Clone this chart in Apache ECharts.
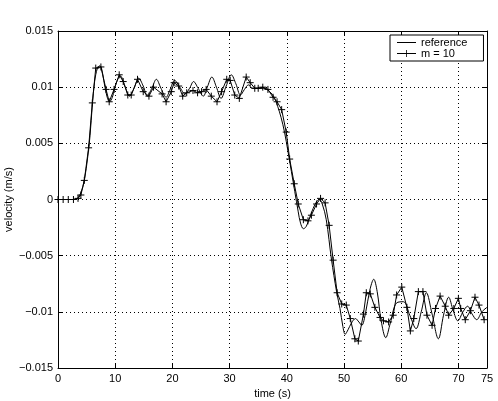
<!DOCTYPE html>
<html>
<head>
<meta charset="utf-8">
<script src="https://cdn.jsdelivr.net/npm/echarts@6/dist/echarts.min.js"></script>
<style>
  html, body { margin: 0; padding: 0; background: #fff; }
  #main { width: 498px; height: 401px; }
</style>
</head>
<body>
<div id="main"></div>
<script>
// reference curve
var refTime = [0, 1, 2, 3, 3.4, 4.0, 4.6, 5.2, 5.6, 6.0, 6.4, 6.9, 7.3, 7.6, 8.0, 8.5, 9.0, 9.5, 10.2, 10.9,
  11.7, 12.5, 13.3, 14.1, 14.9, 15.6, 16.4, 17.2, 18.0, 18.9, 19.6, 20.4, 21.3, 22.2, 23.0, 23.7, 24.5, 25.4,
  26.1, 26.9, 27.7, 28.5, 29.4, 30.3, 31.1, 31.9, 32.6, 33.3, 34.0, 35.0, 36.0, 37.0, 37.8, 38.4, 39.0, 39.6,
  40.2, 40.8, 41.4, 42.0, 42.4, 42.9, 43.4, 44.0, 44.6, 45.2, 45.7, 46.2, 46.9, 47.8, 48.7, 49.3, 49.8, 50.2,
  50.7, 51.3, 52.0, 52.6, 53.1, 53.8, 54.5, 55.2, 55.8, 56.5, 57.3, 58.1, 59.2, 60.4, 61.5, 62.6, 63.5, 64.4,
  65.4, 66.5, 67.4, 68.3, 69.1, 69.9, 70.8, 71.6, 72.4, 73.2, 74.1, 75];
var refVel = [0, 0, 0, 0, 0.0001, 0.0006, 0.0017, 0.0038, 0.0057, 0.0084, 0.0105, 0.0117, 0.0119, 0.0117, 0.0106,
  0.0093, 0.0087, 0.0091, 0.0104, 0.0110, 0.0101, 0.0092, 0.0099, 0.0108, 0.0101, 0.0092, 0.0099, 0.0107, 0.0099,
  0.0091, 0.0098, 0.0106, 0.0100, 0.0094, 0.0099, 0.0105, 0.0099, 0.0092, 0.0100, 0.0109, 0.0100, 0.0090, 0.0101,
  0.0111, 0.0103, 0.0093, 0.0098, 0.0102, 0.0099, 0.0099, 0.0099, 0.0096, 0.0091, 0.0083, 0.0073, 0.0060, 0.0043,
  0.0025, 0.0007, -0.0011, -0.0021, -0.0026, -0.0024, -0.0016, -0.0008, -0.0002, 0.0000, -0.0004, -0.0018,
  -0.0053, -0.0082, -0.0097, -0.0113, -0.0120, -0.0116, -0.0110, -0.0106, -0.0109, -0.0112, -0.0100, -0.0081,
  -0.0071, -0.0082, -0.0108, -0.0123, -0.0110, -0.0092, -0.0091, -0.0103, -0.0115, -0.0100, -0.0083, -0.0102,
  -0.0124, -0.0103, -0.0087, -0.0099, -0.0108, -0.0100, -0.0095, -0.0102, -0.0107, -0.0100, -0.0096];

// m = 10 samples
var mTime = [0, 0.9, 1.8, 2.7, 3.5, 4.0, 4.6, 5.35, 6.0, 6.6, 7.5, 8.4, 8.95, 9.8, 10.7, 11.4, 12.2, 12.8, 13.9,
  14.9, 15.9, 16.7, 18.2, 18.9, 19.8, 20.3, 21.1, 21.8, 22.5, 23.6, 24.4, 25.1, 25.9, 26.8, 27.8, 28.6, 29.5,
  30.1, 30.9, 31.7, 32.9, 33.6, 34.4, 35.0, 35.8, 36.7, 37.6, 38.3, 39.1, 39.9, 40.5, 41.3, 42.0, 42.9, 43.7,
  44.3, 45.2, 45.9, 46.7, 47.4, 48.1, 48.8, 49.6, 50.4, 51.1, 51.9, 52.5, 53.4, 53.9, 54.6, 55.4, 56.3, 56.9,
  57.8, 58.6, 59.2, 60.1, 61.0, 61.6, 62.2, 63.0, 63.8, 64.5, 65.4, 66.0, 66.8, 67.7, 68.3, 69.2, 70.0, 70.4,
  71.2, 72.1, 72.9, 73.6, 74.5];
var mVel = [0, 0, 0, 0, 0.0001, 0.0004, 0.0017, 0.0046, 0.0086, 0.0117, 0.0118, 0.0098, 0.0087, 0.0098, 0.0111,
  0.0105, 0.0093, 0.0093, 0.0107, 0.0096, 0.0092, 0.0100, 0.0094, 0.0087, 0.0096, 0.0104, 0.0101, 0.0092, 0.0095,
  0.0097, 0.0095, 0.0096, 0.0098, 0.0092, 0.0087, 0.0096, 0.0107, 0.0106, 0.0093, 0.0090, 0.0109, 0.0104, 0.0099,
  0.0099, 0.0100, 0.0098, 0.0091, 0.0087, 0.0080, 0.0060, 0.0036, 0.0014, -0.0004, -0.0018, -0.0019, -0.0014,
  -0.0004, 0.0001, -0.0003, -0.0023, -0.0054, -0.0083, -0.0093, -0.0094, -0.0106, -0.0124, -0.0126, -0.0102,
  -0.0083, -0.0084, -0.0096, -0.0105, -0.0108, -0.0109, -0.0103, -0.0085, -0.0078, -0.0096, -0.0117, -0.0106,
  -0.0082, -0.0082, -0.0103, -0.0112, -0.0097, -0.0086, -0.0095, -0.0103, -0.0097, -0.0088, -0.0097, -0.0107,
  -0.0099, -0.0087, -0.0094, -0.0107];

function pairs(xs, ys) {
  return xs.map(function (x, i) { return [x, ys[i]]; });
}

var font = 'Liberation Sans';
var gridLine = { show: true, lineStyle: { color: '#000', width: 1, type: [1, 3] } };
var axisLine = { show: true, onZero: false, lineStyle: { color: '#000', width: 1 } };
var tick = { show: true, inside: true, length: 5, lineStyle: { color: '#000' } };
// legend icons: tiny corner specks keep each box 19x8
var lineIcon = 'path://M0,0L0.01,0L0.01,0.01ZM0,3.6L19,3.6L19,4.4L0,4.4ZM18.99,8L19,8L19,7.99Z';
var plusIcon = 'path://M0,0L0.01,0L0.01,0.01ZM0,3.6L19,3.6L19,4.4L0,4.4ZM9.1,0.6L9.9,0.6L9.9,7.4L9.1,7.4ZM18.99,8L19,8L19,7.99Z';
var iconStyle = { color: '#000', borderWidth: 0, borderColor: 'transparent' };

var myChart = echarts.init(document.getElementById('main'), null, { renderer: 'canvas' });
var option = {
  backgroundColor: '#fff',
  animation: false,
  textStyle: { fontFamily: font },
  grid: { left: 58, right: 11, top: 31, bottom: 33, containLabel: false, outerBoundsMode: 'none' },
  legend: {
    left: 390, top: 35,
    orient: 'vertical',
    padding: [2, 16, 2, 7],
    itemGap: 0,
    itemWidth: 19,
    itemHeight: 8,
    borderColor: '#000',
    borderWidth: 1,
    backgroundColor: '#fff',
    textStyle: { fontFamily: font, fontSize: 11, color: '#000' },
    data: [
      { name: 'reference', icon: lineIcon, itemStyle: iconStyle },
      { name: 'm = 10', icon: plusIcon, itemStyle: iconStyle }
    ]
  },
  xAxis: [{
    type: 'value', min: 0, max: 75, interval: 10,
    name: 'time (s)', nameLocation: 'middle', nameGap: 13,
    nameTextStyle: { fontFamily: font, fontSize: 11, color: '#000' },
    axisLine: axisLine, axisTick: tick, splitLine: gridLine,
    axisLabel: { margin: 5, fontSize: 11, color: '#000', fontFamily: font, showMaxLabel: true }
  }, {
    type: 'value', min: 0, max: 75, interval: 10, position: 'top',
    axisLine: axisLine, axisTick: tick, splitLine: { show: false }, axisLabel: { show: false }
  }],
  yAxis: [{
    type: 'value', min: -0.015, max: 0.015, interval: 0.005,
    name: 'velocity (m/s)', nameLocation: 'middle', nameGap: 44, nameRotate: 90,
    nameMoveOverlap: false,
    nameTextStyle: { fontFamily: font, fontSize: 11, color: '#000' },
    axisLine: axisLine, axisTick: tick, splitLine: gridLine,
    axisLabel: {
      margin: 5, fontSize: 11, color: '#000', fontFamily: font,
      formatter: function (v) { return String(Number(v.toFixed(3))).replace('-', '\u2212'); }
    }
  }, {
    type: 'value', min: -0.015, max: 0.015, interval: 0.005, position: 'right',
    axisLine: axisLine, axisTick: tick, splitLine: { show: false }, axisLabel: { show: false }
  }],
  series: [{
    name: 'reference',
    type: 'line',
    data: pairs(refTime, refVel),
    smooth: 0.35,
    symbol: 'none',
    itemStyle: { color: '#000' },
    lineStyle: { color: '#000', width: 1 },
    emphasis: { disabled: true }
  }, {
    name: 'm = 10',
    type: 'line',
    data: pairs(mTime, mVel),
    symbol: 'path://M5,0L5,10M0,5L10,5',
    symbolSize: 7,
    showSymbol: true,
    itemStyle: { color: '#000', borderColor: '#000', borderWidth: 1 },
    lineStyle: { color: '#000', width: 1 },
    emphasis: { disabled: true }
  }]
};
myChart.setOption(option);
</script>
</body>
</html>
